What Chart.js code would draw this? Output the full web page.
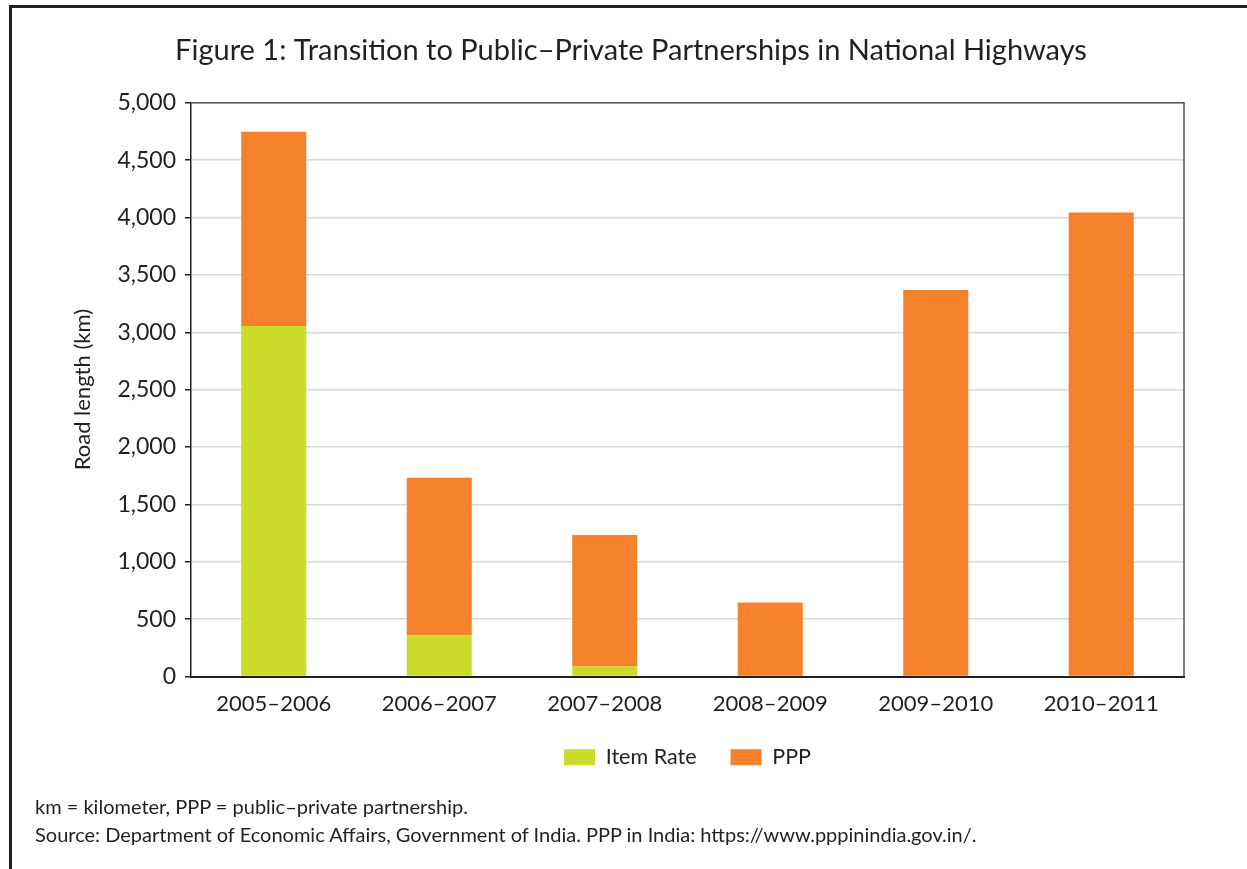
<!DOCTYPE html>
<html>
<head>
<meta charset="utf-8">
<script src="https://cdn.jsdelivr.net/npm/chart.js@4.4.1/dist/chart.umd.min.js"></script>
<style>
  html, body { margin: 0; padding: 0; background: #fff; overflow: hidden; }
  #frame { position: absolute; left: 9px; top: 5px; width: 1238px; height: 864px;
           border-left: 3px solid #231f20; border-top: 3px solid #231f20; box-sizing: border-box; }
  #wrap { position: absolute; left: 16px; top: 0; width: 1231px; height: 820px; }
  #note { position: absolute; left: 35px; top: 792px; font-family: Lato, "Open Sans", sans-serif;
          font-size: 20px; line-height: 28px; color: #231f20; }
</style>
</head>
<body>
<div id="frame"></div>
<div id="wrap"><canvas id="c"></canvas></div>
<div id="note">km = kilometer, PPP = public–private partnership.<br>Source: Department of Economic Affairs, Government of India. PPP in India: https://www.pppinindia.gov.in/.</div>
<script>
const categories = ['2005–2006', '2006–2007', '2007–2008', '2008–2009', '2009–2010', '2010–2011'];
const itemRate = [3055, 358, 87, 0, 0, 0];
const ppp = [1693, 1375, 1146, 646, 3369, 4044];
const yTicks = [0, 500, 1000, 1500, 2000, 2500, 3000, 3500, 4000, 4500, 5000];

const FONT = 'Lato, "Open Sans", sans-serif';
const TEXT = '#231f20';

const frameBox = {
  id: 'frameBox',
  afterDraw(chart) {
    const {ctx, chartArea: a} = chart;
    ctx.save();
    ctx.strokeStyle = '#555';
    ctx.lineWidth = 1.5;
    ctx.beginPath();
    ctx.moveTo(a.left, a.top);
    ctx.lineTo(a.right, a.top);
    ctx.lineTo(a.right, a.bottom);
    ctx.stroke();
    ctx.restore();
  }
};

new Chart(document.getElementById('c'), {
  type: 'bar',
  data: {
    labels: categories,
    datasets: [
      { label: 'Item Rate', data: itemRate, backgroundColor: '#cadb2a', borderWidth: 0,
        categoryPercentage: 1, barPercentage: 0.393 },
      { label: 'PPP', data: ppp, backgroundColor: '#f5822b', borderWidth: 0,
        categoryPercentage: 1, barPercentage: 0.393 }
    ]
  },
  options: {
    responsive: true,
    maintainAspectRatio: false,
    animation: false,
    layout: { padding: { left: 62, right: 63, top: 0, bottom: 42 } },
    plugins: {
      title: {
        display: true,
        text: 'Figure 1: Transition to Public–Private Partnerships in National Highways',
        color: TEXT,
        font: { family: FONT, size: 29, weight: 'normal' },
        padding: { top: 33, bottom: 35 }
      },
      legend: {
        position: 'bottom',
        fullSize: false,
        labels: { color: TEXT, font: { family: FONT, size: 21.5 }, boxWidth: 31, boxHeight: 16, padding: 34 }
      },
      tooltip: { enabled: false }
    },
    scales: {
      x: {
        stacked: true,
        grid: { display: false, drawTicks: false, tickLength: 0 },
        border: { display: true, color: '#231f20', width: 2 },
        ticks: { color: TEXT, font: { family: FONT, size: 22, lineHeight: 1 }, padding: 16, maxRotation: 0 },
        afterFit(s) { s.height = 36; }
      },
      y: {
        stacked: true,
        min: 0, max: 5000,
        afterBuildTicks(s) { s.ticks = yTicks.map(v => ({ value: v })); },
        grid: { color: '#d9d9d9', lineWidth: 1.5, tickColor: '#231f20', tickLength: 6, drawTicks: true },
        border: { display: true, color: '#231f20', width: 1.5 },
        ticks: { color: TEXT, font: { family: FONT, size: 23 }, padding: 9,
                 callback: v => v.toLocaleString('en-US') },
        title: { display: true, text: 'Road length (km)', color: TEXT,
                 font: { family: FONT, size: 22 }, padding: { top: -8, bottom: 0 } },
        afterFit(s) { s.width = 113; }
      }
    }
  },
  plugins: [frameBox]
});
</script>
</body>
</html>
